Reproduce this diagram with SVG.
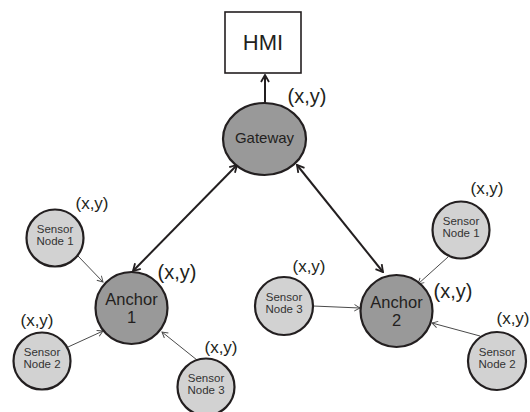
<svg xmlns="http://www.w3.org/2000/svg" width="530" height="412" viewBox="0 0 530 412">
<defs>
<style>
.bg{fill:#ffffff}
.box{fill:#ffffff;stroke:#231f20;stroke-width:1.6}
.dark{fill:#999999;stroke:#231f20;stroke-width:2.2}
.light{fill:#d2d2d2;stroke:#231f20;stroke-width:2.2}
.thick{stroke:#231f20;stroke-width:2;fill:none}
.thin{stroke:#4a4a4a;stroke-width:1;fill:none}
text{font-family:"Liberation Sans",Arial,sans-serif;fill:#231f20;text-anchor:middle}
.hmi{font-size:22px}
.gw{font-size:15px}
.an{font-size:16.5px}
.sn{font-size:11.5px;fill:#333333}
.lblL{font-size:20px}
.lblS{font-size:17px}
</style>
<marker id="ah" viewBox="0 0 10 10" refX="9" refY="5" markerWidth="10" markerHeight="10" markerUnits="userSpaceOnUse" orient="auto-start-reverse">
<path d="M2,1 L9,5 L2,9" fill="none" stroke="#231f20" stroke-width="1.8"/>
</marker>
<marker id="ahs" viewBox="0 0 10 10" refX="9" refY="5" markerWidth="8" markerHeight="8" markerUnits="userSpaceOnUse" orient="auto">
<path d="M2,1 L9,5 L2,9" fill="none" stroke="#4a4a4a" stroke-width="1.2"/>
</marker>
</defs>
<rect class="bg" x="0" y="0" width="530" height="412"/>
<g id="connectors">
<line class="thick" x1="265" y1="103" x2="265" y2="75" marker-end="url(#ah)"/>
<line class="thick" x1="237" y1="165" x2="133" y2="271" marker-start="url(#ah)" marker-end="url(#ah)"/>
<line class="thick" x1="297" y1="165" x2="383" y2="272" marker-start="url(#ah)" marker-end="url(#ah)"/>
<line class="thin" x1="78" y1="256" x2="103" y2="282" marker-end="url(#ahs)"/>
<line class="thin" x1="68" y1="347" x2="103" y2="331" marker-end="url(#ahs)"/>
<line class="thin" x1="197" y1="360" x2="162" y2="332" marker-end="url(#ahs)"/>
<line class="thin" x1="448" y1="257" x2="418" y2="284" marker-end="url(#ahs)"/>
<line class="thin" x1="313" y1="306" x2="360" y2="308" marker-end="url(#ahs)"/>
<line class="thin" x1="480" y1="336" x2="432" y2="323" marker-end="url(#ahs)"/>
</g>
<g id="hmi">
<rect class="box" x="225" y="12" width="76" height="61"/>
<text class="hmi" x="263" y="50">HMI</text>
</g>
<g id="gateway">
<ellipse class="dark" cx="264.5" cy="139" rx="41.5" ry="36"/>
<text class="gw" x="264.5" y="143">Gateway</text>
<text class="lblL" x="307" y="103">(x,y)</text>
</g>
<g id="anchor1">
<circle class="dark" cx="131.5" cy="308" r="36"/>
<text class="an" x="131.5" y="305">Anchor</text>
<text class="an" x="131.5" y="323">1</text>
<text class="lblL" x="177" y="279">(x,y)</text>
</g>
<g id="anchor2">
<circle class="dark" cx="396.5" cy="311" r="36"/>
<text class="an" x="396.5" y="308">Anchor</text>
<text class="an" x="396.5" y="326">2</text>
<text class="lblL" x="453" y="298">(x,y)</text>
</g>
<g id="a1-sensor1">
<circle class="light" cx="55" cy="238" r="28.5"/>
<text class="sn" x="55" y="233">Sensor</text>
<text class="sn" x="55" y="244.5">Node 1</text>
<text class="lblS" x="92" y="209">(x,y)</text>
</g>
<g id="a1-sensor2">
<circle class="light" cx="42" cy="361" r="28.5"/>
<text class="sn" x="42" y="356">Sensor</text>
<text class="sn" x="42" y="367.5">Node 2</text>
<text class="lblS" x="37" y="326">(x,y)</text>
</g>
<g id="a1-sensor3">
<circle class="light" cx="206" cy="387" r="28.5"/>
<text class="sn" x="206" y="382">Sensor</text>
<text class="sn" x="206" y="393.5">Node 3</text>
<text class="lblS" x="221" y="353">(x,y)</text>
</g>
<g id="a2-sensor1">
<circle class="light" cx="461" cy="230" r="28.5"/>
<text class="sn" x="461" y="225">Sensor</text>
<text class="sn" x="461" y="236.5">Node 1</text>
<text class="lblS" x="487" y="194">(x,y)</text>
</g>
<g id="a2-sensor3">
<circle class="light" cx="284" cy="306" r="29"/>
<text class="sn" x="284" y="301">Sensor</text>
<text class="sn" x="284" y="312.5">Node 3</text>
<text class="lblS" x="309" y="272">(x,y)</text>
</g>
<g id="a2-sensor2">
<circle class="light" cx="497" cy="361" r="29"/>
<text class="sn" x="497" y="356">Sensor</text>
<text class="sn" x="497" y="367.5">Node 2</text>
<text class="lblS" x="513" y="324">(x,y)</text>
</g>
</svg>
